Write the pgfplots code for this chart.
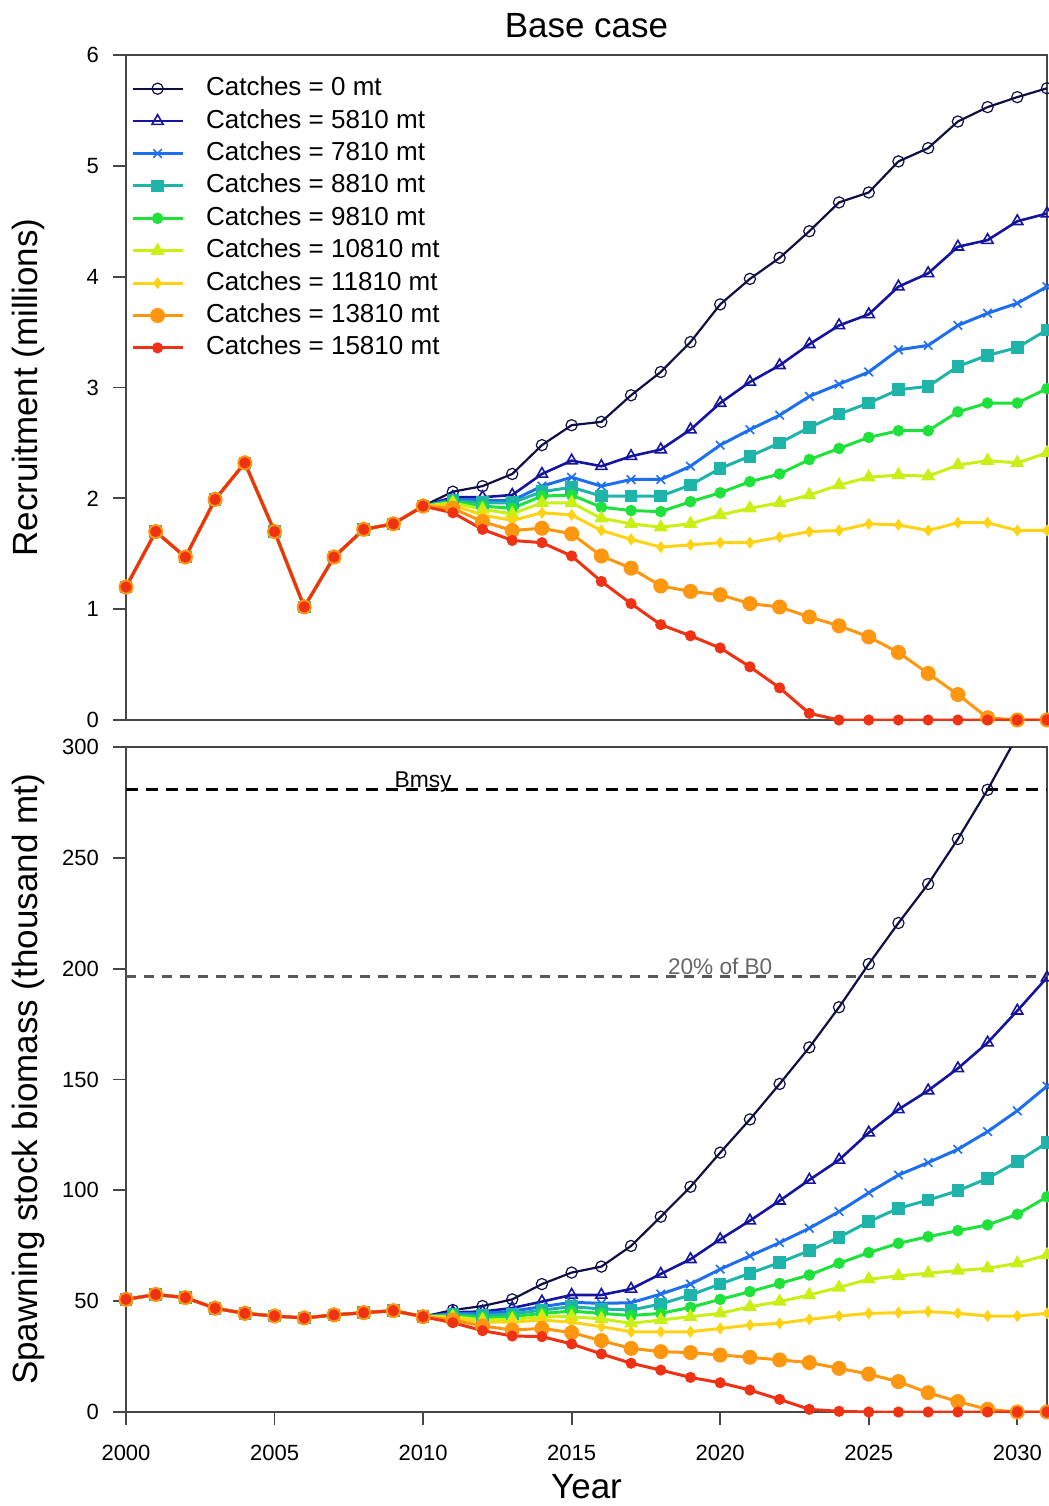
\documentclass[border=0pt]{standalone}
\usepackage{fontspec}
\setmainfont{Liberation Sans}
\usepackage{pgfplots}
\pgfplotsset{compat=1.18}
\usepackage{pgfplotstable}

\definecolor{c0}{RGB}{15,15,70}
\definecolor{c5810}{RGB}{20,20,160}
\definecolor{c7810}{RGB}{30,110,240}
\definecolor{c8810}{RGB}{30,180,170}
\definecolor{c9810}{RGB}{30,225,60}
\definecolor{c10810}{RGB}{200,240,20}
\definecolor{c11810}{RGB}{255,210,20}
\definecolor{c13810}{RGB}{255,150,15}
\definecolor{c15810}{RGB}{240,50,20}
\definecolor{frame}{RGB}{70,70,70}

% recruitment (millions)
\pgfplotstableread{
year c0 c5810 c7810 c8810 c9810 c10810 c11810 c13810 c15810
2000 1.20 1.20 1.20 1.20 1.20 1.20 1.20 1.20 1.20
2001 1.70 1.70 1.70 1.70 1.70 1.70 1.70 1.70 1.70
2002 1.47 1.47 1.47 1.47 1.47 1.47 1.47 1.47 1.47
2003 1.99 1.99 1.99 1.99 1.99 1.99 1.99 1.99 1.99
2004 2.32 2.32 2.32 2.32 2.32 2.32 2.32 2.32 2.32
2005 1.70 1.70 1.70 1.70 1.70 1.70 1.70 1.70 1.70
2006 1.02 1.02 1.02 1.02 1.02 1.02 1.02 1.02 1.02
2007 1.47 1.47 1.47 1.47 1.47 1.47 1.47 1.47 1.47
2008 1.72 1.72 1.72 1.72 1.72 1.72 1.72 1.72 1.72
2009 1.77 1.77 1.77 1.77 1.77 1.77 1.77 1.77 1.77
2010 1.93 1.93 1.93 1.93 1.93 1.93 1.93 1.93 1.93
2011 2.06 2.01 1.99 1.98 1.97 1.96 1.94 1.91 1.87
2012 2.11 2.01 1.98 1.96 1.93 1.90 1.85 1.79 1.72
2013 2.22 2.03 1.98 1.96 1.91 1.86 1.80 1.71 1.62
2014 2.48 2.22 2.11 2.06 2.02 1.96 1.87 1.73 1.60
2015 2.66 2.34 2.19 2.10 2.03 1.96 1.85 1.68 1.48
2016 2.69 2.29 2.11 2.02 1.92 1.82 1.71 1.48 1.25
2017 2.93 2.38 2.17 2.02 1.89 1.77 1.63 1.37 1.05
2018 3.14 2.44 2.17 2.02 1.88 1.74 1.56 1.21 0.86
2019 3.41 2.62 2.29 2.12 1.97 1.77 1.58 1.16 0.76
2020 3.75 2.86 2.48 2.27 2.05 1.85 1.60 1.13 0.65
2021 3.98 3.05 2.62 2.38 2.15 1.91 1.60 1.05 0.48
2022 4.17 3.20 2.75 2.50 2.22 1.96 1.65 1.02 0.29
2023 4.41 3.39 2.92 2.64 2.35 2.03 1.70 0.93 0.06
2024 4.67 3.56 3.03 2.76 2.45 2.12 1.71 0.85 0.00
2025 4.76 3.66 3.14 2.86 2.55 2.19 1.77 0.75 0.00
2026 5.04 3.91 3.34 2.98 2.61 2.21 1.76 0.61 0.00
2027 5.16 4.03 3.38 3.01 2.61 2.20 1.71 0.42 0.00
2028 5.40 4.27 3.56 3.19 2.78 2.30 1.78 0.23 0.00
2029 5.53 4.33 3.67 3.29 2.86 2.34 1.78 0.02 0.00
2030 5.62 4.50 3.76 3.36 2.86 2.32 1.71 0.00 0.00
2031 5.70 4.57 3.91 3.52 2.99 2.41 1.71 0.00 0.00
}\rec

% spawning stock biomass (thousand mt)
\pgfplotstableread{
year c0 c5810 c7810 c8810 c9810 c10810 c11810 c13810 c15810
2000 50.8 50.8 50.8 50.8 50.8 50.8 50.8 50.8 50.8
2001 53.0 53.0 53.0 53.0 53.0 53.0 53.0 53.0 53.0
2002 51.6 51.6 51.6 51.6 51.6 51.6 51.6 51.6 51.6
2003 46.8 46.8 46.8 46.8 46.8 46.8 46.8 46.8 46.8
2004 44.5 44.5 44.5 44.5 44.5 44.5 44.5 44.5 44.5
2005 43.3 43.3 43.3 43.3 43.3 43.3 43.3 43.3 43.3
2006 42.4 42.4 42.4 42.4 42.4 42.4 42.4 42.4 42.4
2007 43.8 43.8 43.8 43.8 43.8 43.8 43.8 43.8 43.8
2008 44.8 44.8 44.8 44.8 44.8 44.8 44.8 44.8 44.8
2009 45.7 45.7 45.7 45.7 45.7 45.7 45.7 45.7 45.7
2010 43.0 43.0 43.0 43.0 43.0 43.0 43.0 43.0 43.0
2011 46.0 45.0 44.5 44.0 43.5 43.0 42.5 41.5 40.3
2012 47.8 45.3 44.5 43.5 42.5 41.5 40.5 38.8 36.7
2013 50.8 46.9 45.5 44.2 43.0 41.8 40.5 37.0 34.3
2014 57.7 49.8 47.5 46.0 44.5 43.0 41.5 37.7 34.0
2015 62.9 52.8 49.5 47.5 45.5 43.0 40.5 35.8 30.7
2016 65.6 52.8 49.0 46.5 44.5 42.0 38.5 32.2 26.2
2017 74.9 55.5 49.3 46.0 43.5 40.0 36.2 28.7 22.0
2018 88.1 62.3 53.2 48.7 44.5 41.5 36.2 27.2 18.9
2019 101.6 68.9 57.7 52.8 47.2 43.0 36.2 26.8 15.6
2020 117.0 77.9 64.4 57.7 50.8 44.5 37.7 25.7 13.2
2021 132.0 86.3 70.4 62.6 54.3 47.5 39.2 24.7 9.9
2022 148.0 95.3 76.4 67.4 58.0 49.8 40.0 23.5 5.7
2023 164.5 104.7 82.9 72.8 61.8 52.8 41.8 22.3 1.2
2024 182.6 113.7 90.4 78.8 67.1 56.2 43.3 19.7 0.3
2025 202.1 126.0 98.9 85.9 71.9 59.9 44.5 17.1 0.0
2026 220.6 136.5 106.9 91.9 76.1 61.4 44.8 13.7 0.0
2027 238.2 145.0 112.5 95.6 79.1 62.6 45.3 8.7 0.0
2028 258.5 155.0 118.5 99.8 81.8 63.8 44.5 4.7 0.0
2029 280.7 166.6 126.5 105.4 84.4 64.8 43.3 1.2 0.0
2030 305.0 181.0 135.9 112.9 89.2 67.1 43.3 0.0 0.0
2031 328.0 196.0 147.0 121.5 97.1 70.8 44.5 0.0 0.0
}\ssb

\pgfplotsset{
  panel/.style={
    scale only axis, width=460.5pt, height=332.5pt,
    xmin=2000, xmax=2031,
    axis line style={frame, line width=0.9pt},
    tick style={frame, line width=0.9pt},
    tick align=outside, major tick length=6.5pt,
    xtick pos=bottom, ytick pos=left,
    yticklabel style={font=\fontsize{11}{13}\selectfont, xshift=-3.5pt},
    xticklabel style={font=\fontsize{11}{13}\selectfont, yshift=-6.5pt},
    /pgf/number format/assume math mode=true,
    /pgf/number format/1000 sep={},
    ylabel style={at={(axis description cs:-0.1064,0.5)}, anchor=center,
      font=\fontsize{17.5}{20}\selectfont},
    clip=true,
  },
  s0/.style={c0, line width=1.1pt, mark=o, mark size=2.8pt, mark options={line width=0.6pt, fill=none}},
  s5810/.style={c5810, line width=1.3pt, mark=triangle, mark size=3.2pt, mark options={line width=0.8pt, fill=none}},
  s7810/.style={c7810, line width=1.5pt, mark=x, mark size=3pt, mark options={line width=0.8pt}},
  s8810/.style={c8810, line width=1.5pt, mark=square*, mark size=2.4pt, mark options={fill=c8810}},
  s9810/.style={c9810, line width=1.5pt, mark=*, mark size=2.1pt, mark options={fill=c9810}},
  s10810/.style={c10810, line width=1.5pt, mark=triangle*, mark size=2.6pt, mark options={fill=c10810}},
  s11810/.style={c11810, line width=1.5pt, mark=diamond*, mark size=1.8pt, mark options={fill=c11810}},
  s13810/.style={c13810, line width=1.5pt, mark=*, mark size=3pt, mark options={fill=c13810}},
  s15810/.style={c15810, line width=1.5pt, mark=*, mark size=2pt, mark options={fill=c15810}},
}

\begin{document}
\begin{tikzpicture}
\path[use as bounding box] (-63pt,-393pt) rectangle (461.5pt,360pt);

\begin{axis}[panel, name=top, at={(0,0)}, anchor=south west,
    ymin=0, ymax=6, ytick={0,1,2,3,4,5,6}, xtick=\empty,
    ylabel={Recruitment (millions)},
    title={Base case},
    title style={font=\fontsize{17.5}{20}\selectfont, at={(axis description cs:0.5,1)}, anchor=center, yshift=8.5pt},
    legend cell align=left,
    legend style={draw=none, fill=none, at={(axis description cs:-0.0014,0.977)}, anchor=north west,
      font=\fontsize{13}{15}\selectfont, row sep=2.2pt,
      nodes={inner sep=1pt, text height=9.5pt, text depth=2.5pt}},
    legend image code/.code={\draw[mark repeat=2, mark phase=2, #1]
      plot coordinates {(0pt,0pt) (12.5pt,0pt) (25pt,0pt)};},
    legend style={/tikz/every odd column/.append style={column sep=10pt}},
  ]
\addplot[s0] table[x=year, y=c0] {\rec};
\addplot[s5810] table[x=year, y=c5810] {\rec};
\addplot[s7810] table[x=year, y=c7810] {\rec};
\addplot[s8810] table[x=year, y=c8810] {\rec};
\addplot[s9810] table[x=year, y=c9810] {\rec};
\addplot[s10810] table[x=year, y=c10810] {\rec};
\addplot[s11810] table[x=year, y=c11810] {\rec};
\addplot[s13810] table[x=year, y=c13810] {\rec};
\addplot[s15810] table[x=year, y=c15810] {\rec};
\legend{Catches = 0 mt, Catches = 5810 mt, Catches = 7810 mt, Catches = 8810 mt,
  Catches = 9810 mt, Catches = 10810 mt, Catches = 11810 mt, Catches = 13810 mt,
  Catches = 15810 mt}
\end{axis}

\begin{axis}[panel, name=bot, at={(0,-13.5pt)}, anchor=north west,
    ymin=0, ymax=300, ytick={0,50,100,150,200,250,300},
    xtick={2000,2005,2010,2015,2020,2025,2030},
    ylabel={Spawning stock biomass (thousand mt)},
    xlabel={Year},
    xlabel style={at={(axis description cs:0.5,0)}, anchor=center, yshift=-37.5pt,
      font=\fontsize{17.5}{20}\selectfont},
  ]
\addplot[black, line width=1.6pt, dash pattern=on 6pt off 4pt] coordinates {(2000,281) (2031,281)};
\addplot[black!65, line width=1.3pt, dash pattern=on 5pt off 4pt] coordinates {(2000,196.5) (2031,196.5)};
\node[anchor=base, font=\fontsize{11.4}{13}\selectfont, yshift=1pt] at (axis cs:2010,281) {Bmsy};
\node[anchor=base, font=\fontsize{11.3}{13}\selectfont, text=black!60, yshift=1pt] at (axis cs:2020,196.5) {20\% of B0};
\addplot[s0] table[x=year, y=c0] {\ssb};
\addplot[s5810] table[x=year, y=c5810] {\ssb};
\addplot[s7810] table[x=year, y=c7810] {\ssb};
\addplot[s8810] table[x=year, y=c8810] {\ssb};
\addplot[s9810] table[x=year, y=c9810] {\ssb};
\addplot[s10810] table[x=year, y=c10810] {\ssb};
\addplot[s11810] table[x=year, y=c11810] {\ssb};
\addplot[s13810] table[x=year, y=c13810] {\ssb};
\addplot[s15810] table[x=year, y=c15810] {\ssb};
\end{axis}
\end{tikzpicture}
\end{document}
